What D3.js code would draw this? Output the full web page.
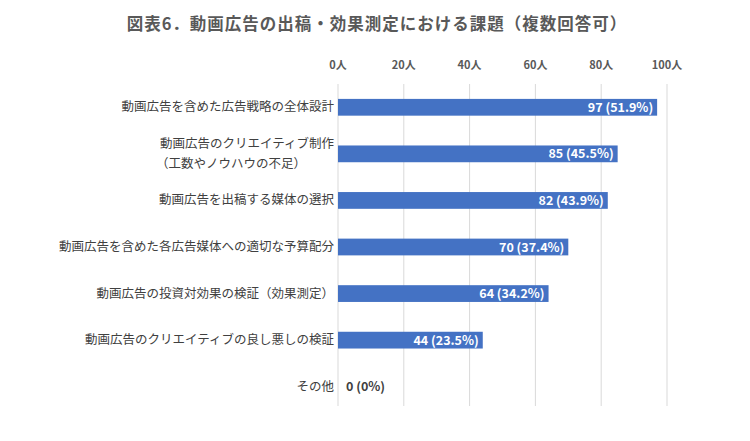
<!DOCTYPE html>
<html><head><meta charset="utf-8">
<script src="https://cdn.jsdelivr.net/npm/d3@7"></script>
<style>body{margin:0;background:#fff}text{font-family:"Noto Sans CJK JP","Noto Sans",sans-serif}</style>
</head><body><svg id="c" width="750" height="441"></svg>
<script>
// data
const categories = [
  ['動画広告を含めた広告戦略の全体設計'],
  ['動画広告のクリエイティブ制作', '（工数やノウハウの不足）'],
  ['動画広告を出稿する媒体の選択'],
  ['動画広告を含めた各広告媒体への適切な予算配分'],
  ['動画広告の投資対効果の検証（効果測定）'],
  ['動画広告のクリエイティブの良し悪しの検証'],
  ['その他']
];
const counts = [97, 85, 82, 70, 64, 44, 0];
const shares = ['51.9%', '45.5%', '43.9%', '37.4%', '34.2%', '23.5%', '0%'];
const ticks = [0, 20, 40, 60, 80, 100];

const svg = d3.select('#c');
const x = d3.scaleLinear().domain([0, 100]).range([338, 667]);
const y = d3.scaleBand().domain(d3.range(categories.length)).range([84, 410]).paddingInner(0.64).paddingOuter(0.32);

svg.append('text').attr('x', 377).attr('y', 30).attr('text-anchor', 'middle')
  .attr('font-size', 16.5).attr('font-weight', 'bold').attr('fill', '#595959')
  .attr('letter-spacing', 1)
  .text('図表6．動画広告の出稿・効果測定における課題（複数回答可）');

// grid
svg.append('g').selectAll('line').data(ticks).join('line')
  .attr('x1', d => x(d)).attr('x2', d => x(d)).attr('y1', 84).attr('y2', 406)
  .attr('stroke', '#d9d9d9').attr('stroke-width', 1);

svg.append('g').selectAll('text').data(ticks).join('text')
  .attr('x', d => x(d)).attr('y', 69).attr('text-anchor', 'middle')
  .attr('font-size', 11).attr('font-weight', 'bold').attr('fill', '#595959')
  .text(d => d + '人');

// bars
svg.append('g').selectAll('rect').data(counts).join('rect')
  .attr('x', x(0)).attr('y', (d, i) => y(i)).attr('height', y.bandwidth())
  .attr('width', d => x(d) - x(0)).attr('fill', '#4472c4');

svg.append('g').selectAll('text').data(counts).join('text')
  .attr('x', d => d > 0 ? x(d) - 4 : x(0) + 8)
  .attr('y', (d, i) => y(i) + y.bandwidth() / 2 + 4.5)
  .attr('text-anchor', d => d > 0 ? 'end' : 'start')
  .attr('font-size', 12.5).attr('font-weight', 'bold')
  .attr('fill', d => d > 0 ? '#fff' : '#404040')
  .text((d, i) => `${d} (${shares[i]})`);

// category labels
const lab = svg.append('g').selectAll('text').data(categories).join('text')
  .attr('text-anchor', 'end').attr('font-size', 12.5).attr('fill', '#404040')
  .attr('x', 334)
  .attr('y', (d, i) => y(i) + y.bandwidth() / 2 + 4 - (d.length - 1) * 10);
lab.selectAll('tspan').data(d => d).join('tspan')
  .attr('x', (d, i, n) => n.length > 1 && i === 1 ? 306 : 334)
  .attr('dy', (d, i) => i ? 20 : 0).text(d => d);
</script></body></html>
